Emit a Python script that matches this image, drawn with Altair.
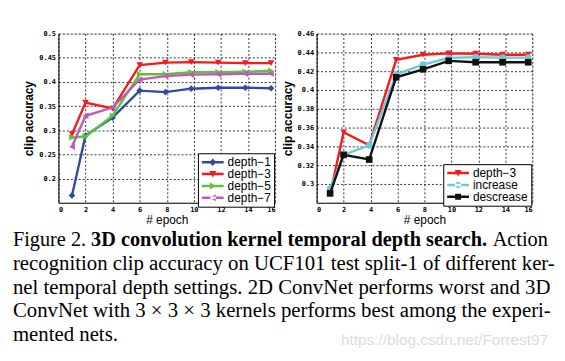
import altair as alt
import pandas as pd

# ---------------- data ----------------
epochs_left = [1, 2, 4, 6, 7.9, 9.8, 11.8, 13.8, 15.7]
names_left = ["depth−1", "depth−3", "depth−5", "depth−7"]
depth1 = [0.165, 0.289, 0.326, 0.382, 0.379, 0.386, 0.388, 0.388, 0.387]
depth3 = [0.292, 0.357, 0.345, 0.435, 0.440, 0.441, 0.440, 0.439, 0.439]
depth5 = [0.285, 0.287, 0.330, 0.416, 0.416, 0.420, 0.420, 0.421, 0.423]
depth7 = [0.266, 0.330, 0.347, 0.405, 0.412, 0.415, 0.416, 0.417, 0.417]

epochs_right = [1, 2, 3.9, 5.9, 7.9, 9.8, 11.8, 13.8, 15.7]
names_right = ["depth−3", "increase", "descrease"]
r_depth3 = [0.289, 0.355, 0.341, 0.432, 0.4375, 0.439, 0.4386, 0.4375, 0.4375]
r_increase = [0.295, 0.331, 0.341, 0.4165, 0.427, 0.434, 0.435, 0.4344, 0.4344]
r_descrease = [0.290, 0.331, 0.326, 0.4135, 0.422, 0.431, 0.4295, 0.4295, 0.4295]

x_ticks = [0, 2, 4, 6, 8, 10, 12, 14, 16]
y_ticks_left = [0.2, 0.25, 0.3, 0.35, 0.4, 0.45, 0.5]
y_ticks_right = [0.3, 0.32, 0.34, 0.36, 0.38, 0.4, 0.42, 0.44, 0.46]

caption_lines = [
    "recognition clip accuracy on UCF101 test split-1 of different ker-",
    "nel temporal depth settings.  2D ConvNet performs worst and 3D",
    "ConvNet with 3 × 3 × 3 kernels performs best among the experi-",
    "mented nets.",
]
caption_head = ["Figure 2.", "3D convolution kernel temporal depth search.", "Action"]
watermark = "https://blog.csdn.net/Forrest97"

# ---------------- styles ----------------
colors_left = ["#2f4a9e", "#f21c1c", "#5cc23c", "#c05ab8"]
colors_right = ["#f21c1c", "#6ec8da", "#111111"]
shapes_left = ["diamond", "triangle-down", "triangle-right", "triangle-left"]
shapes_right = ["triangle-down", "circle", "square"]

LINE = "M-1,-0.25H3.4V0.25H-1Z"
MARK = {
    "diamond": "M1.2,-0.75L1.9,0L1.2,0.75L0.5,0Z",
    "triangle-down": "M0.5,-0.6H1.9L1.2,0.7Z",
    "triangle-right": "M0.6,-0.7L1.9,0L0.6,0.7Z",
    "triangle-left": "M1.8,-0.7L0.5,0L1.8,0.7Z",
    "circle": "M0.55,0A0.65,0.65 0 1,0 1.85,0A0.65,0.65 0 1,0 0.55,0Z",
    "square": "M0.6,-0.6H1.8V0.6H0.6Z",
}


def long_df(epochs, names, series):
    rows = []
    for n, vals in zip(names, series):
        for e, v in zip(epochs, vals):
            rows.append({"epoch": e, "acc": v, "series": n})
    return pd.DataFrame(rows)


def panel(df, names, colors, shapes, ydom, yticks, lx, ly, w, h):
    xs = alt.Scale(domain=[0, 16], nice=False, zero=False)
    ys = alt.Scale(domain=ydom, nice=False, zero=False)
    cs = alt.Scale(domain=names, range=colors)
    xax = alt.Axis(values=x_ticks, format="d", grid=True, gridDash=[2, 2],
                   gridColor="black", gridOpacity=1, gridWidth=0.8, ticks=False,
                   labelFont="DejaVu Sans Mono", labelFontSize=7, labelFontWeight="bold",
                   labelPadding=3, labelColor="black", domainColor="black",
                   title="# epoch", titleFont="Liberation Sans", titleFontSize=12,
                   titleFontWeight="normal", titlePadding=2, titleColor="black")
    yax = alt.Axis(values=yticks, format=".2~f", grid=True, gridDash=[2, 2],
                   gridColor="black", gridOpacity=1, gridWidth=0.8, ticks=False,
                   labelFont="DejaVu Sans Mono", labelFontSize=7, labelFontWeight="bold",
                   labelPadding=3, labelColor="black", domainColor="black",
                   title="clip accuracy", titleFont="Liberation Sans", titleFontSize=12,
                   titleFontWeight="bold", titlePadding=3, titleColor="black")
    x = alt.X("epoch:Q", scale=xs, axis=xax)
    y = alt.Y("acc:Q", scale=ys, axis=yax)
    base = alt.Chart(df)
    layers = []
    for n, col, shp in zip(names, colors, shapes):
        sub = base.transform_filter(alt.datum.series == n)
        layers.append(sub.mark_line(strokeWidth=2.4, color=col).encode(x=x, y=y))
        layers.append(sub.mark_point(filled=True, opacity=1, size=45, shape=shp,
                                     color=col).encode(x=x, y=y))
    leg = alt.Legend(title=None, orient="none", legendX=lx, legendY=ly,
                     strokeColor="black", fillColor="white", padding=3,
                     labelFont="Liberation Sans", labelFontSize=12, labelColor="black",
                     rowPadding=0, symbolSize=100, labelOffset=15,
                     symbolStrokeWidth=0, symbolOpacity=1)
    paths = [LINE + " " + MARK[s] for s in shapes]
    # legend-only layer: its points lie outside the clipped plot area
    layers.append(
        base.transform_calculate(hidden="-1")
        .mark_point(filled=True, opacity=1, clip=True)
        .encode(x=x, y=alt.Y("hidden:Q", scale=ys, axis=yax),
                color=alt.Color("series:N", scale=cs, legend=leg),
                shape=alt.Shape("series:N", scale=alt.Scale(domain=names, range=paths),
                                legend=leg))
    )
    return alt.layer(*layers).properties(width=w, height=h)


df_left = long_df(epochs_left, names_left, [depth1, depth3, depth5, depth7])
df_right = long_df(epochs_right, names_right, [r_depth3, r_increase, r_descrease])

left = panel(df_left, names_left, colors_left, shapes_left, [0.15, 0.5],
             y_ticks_left, 141, 121, 219, 171)
right = panel(df_right, names_right, colors_right, shapes_right, [0.28, 0.46],
              y_ticks_right, 128, 132, 218, 171)

top = alt.hconcat(left, right, spacing=3).resolve_scale(
    color="independent", shape="independent", x="independent", y="independent"
).resolve_legend(color="independent", shape="independent")

# ---------------- caption ----------------
one = pd.DataFrame({"t": [0]})
cap_layers = []
serif = "Liberation Serif"
head_x = [-46, 33, 439]
head_w = ["normal", "bold", "normal"]
for txt, xx, ww in zip(caption_head, head_x, head_w):
    cap_layers.append(alt.Chart(one).mark_text(
        text=txt, font=serif, fontSize=20.5, fontWeight=ww, align="left",
        baseline="alphabetic", color="black").encode(x=alt.value(xx), y=alt.value(20)))
for i, txt in enumerate(caption_lines):
    cap_layers.append(alt.Chart(one).mark_text(
        text=txt, font=serif, fontSize=21, align="left", baseline="alphabetic",
        color="black").encode(x=alt.value(-46), y=alt.value(44 + 24 * i)))
cap_layers.append(alt.Chart(one).mark_text(
    text=watermark, font="Liberation Sans", fontSize=15.5, align="right",
    baseline="alphabetic", color="#dcdcdc").encode(x=alt.value(495), y=alt.value(120)))
caption = alt.layer(*cap_layers).properties(
    width=470, height=120, view=alt.ViewBackground(stroke="transparent"))

chart = alt.vconcat(top, caption, spacing=-6).properties(
    padding={"left": 4, "top": 19, "right": 0, "bottom": 0}
).configure_view(stroke="black", strokeWidth=1).configure(background="white")

chart.save("out.html", embed_options={"renderer": "svg", "actions": False})
